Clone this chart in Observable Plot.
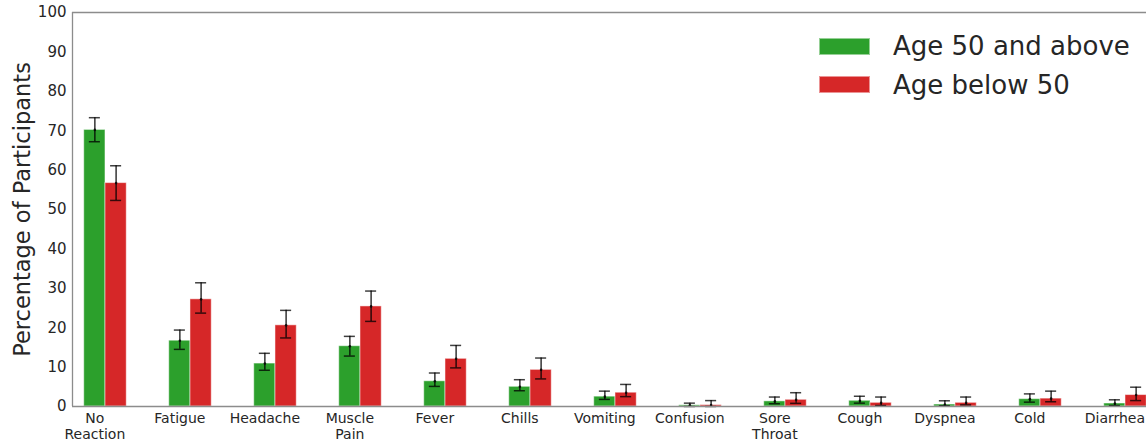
<!DOCTYPE html>
<html>
<head>
<meta charset="utf-8">
<script src="https://cdn.jsdelivr.net/npm/d3@7"></script>
<script src="https://cdn.jsdelivr.net/npm/@observablehq/plot@0.6"></script>
<style>
  html, body { margin: 0; padding: 0; background: #fff; }
  #wrap { position: relative; width: 1146px; height: 447px; font-family: "DejaVu Sans", sans-serif; color: #262626; }
  .legend { position: absolute; left: 819px; top: 27px; font-size: 26px; }
  .legend .row { display: flex; align-items: center; height: 38.5px; }
  .legend .sw { width: 51px; height: 17px; margin-right: 23px; box-sizing: border-box; border: 1px solid rgba(255,255,255,0.5); }
</style>
</head>
<body>
<div id="wrap"></div>
<script>
const categories = ["No\nReaction","Fatigue","Headache","Muscle\nPain","Fever","Chills","Vomiting","Confusion","Sore\nThroat","Cough","Dyspnea","Cold","Diarrhea"];
const groups = ["Age 50 and above","Age below 50"];
const colors = ["#2ca02c","#d62728"];
const older   = [70.2,16.7,10.9,15.3,6.4,5.0,2.5,0.3,1.3,1.45,0.5,1.87,0.76];
const olderLo = [67.2,14.5,9.2,12.8,5.1,4.0,1.8,0.0,0.7,0.85,0.2,1.1,0.25];
const olderHi = [73.3,19.4,13.5,17.8,8.5,6.8,3.9,0.85,2.4,2.6,1.45,3.2,1.7];
const younger   = [56.7,27.2,20.6,25.4,12.1,9.3,3.5,0.35,1.7,0.93,0.93,2.0,2.9];
const youngerLo = [52.3,23.7,17.4,21.6,9.8,7.0,2.5,0.0,0.8,0.25,0.4,1.2,1.5];
const youngerHi = [61.1,31.4,24.4,29.3,15.5,12.3,5.6,1.5,3.5,2.4,2.4,3.9,4.9];
const yTicks = [0,10,20,30,40,50,60,70,80,90,100];
const yLabel = "Percentage of Participants";

const barW = 0.25;
const series = [[older, olderLo, olderHi],[younger, youngerLo, youngerHi]];
const rows = [];
categories.forEach((c, i) => {
  series.forEach(([v, lo, hi], g) => {
    const x1 = i + (g === 0 ? -barW : 0);
    rows.push({i, group: groups[g], value: v[i], lo: lo[i], hi: hi[i], x1, x2: x1 + barW, c: x1 + barW / 2});
  });
});
// tick labels sit under the first bar of each group
const labels = categories.map((c, i) => ({x: i - barW / 2, c}));
const xDomain = [-0.388, 12.247];
const spine = "#8c8c8c";
const cap = 0.065;

const chart = Plot.plot({
  width: 1146,
  height: 447,
  marginLeft: 72,
  marginRight: 0,
  marginTop: 12,
  marginBottom: 41,
  style: {fontFamily: "DejaVu Sans, sans-serif", color: "#262626", background: "white"},
  x: {type: "linear", domain: xDomain, axis: null},
  y: {domain: [0, 100], axis: null},
  color: {domain: groups, range: colors},
  marks: [
    Plot.rect(rows, {x1: "x1", x2: "x2", y1: 0, y2: "value", fill: "group", stroke: "white", strokeOpacity: 0.5, strokeWidth: 1}),
    Plot.ruleX(rows, {x: "c", y1: "lo", y2: "hi", stroke: "black", strokeOpacity: 0.8, strokeWidth: 1.5}),
    Plot.ruleY(rows, {y: "hi", x1: d => d.c - cap, x2: d => d.c + cap, stroke: "black", strokeOpacity: 0.75, strokeWidth: 1.5}),
    Plot.ruleY(rows, {y: "lo", x1: d => d.c - cap, x2: d => d.c + cap, stroke: "black", strokeOpacity: 0.75, strokeWidth: 1.5}),
    Plot.dot(rows, {x: "c", y: "value", r: 1.3, fill: "black", fillOpacity: 0.8}),
    Plot.ruleY([0], {stroke: spine, strokeWidth: 1.3}),
    Plot.ruleY([100], {stroke: spine, strokeWidth: 1.3}),
    Plot.ruleX([xDomain[0]], {stroke: spine, strokeWidth: 1.3}),
    Plot.axisY({ticks: yTicks, tickSize: 0, tickPadding: 6, fontSize: 15, label: null}),
    Plot.text(labels, {x: "x", y: 0, text: "c", lineAnchor: "top", dy: 5, lineHeight: 1.15, fontSize: 14, fill: "#262626"}),
    Plot.text([yLabel], {frameAnchor: "left", textAnchor: "middle", rotate: -90, dx: -50, fontSize: 22.5, fill: "#262626"})
  ]
});

const wrap = document.getElementById("wrap");
wrap.appendChild(chart);
const legend = document.createElement("div");
legend.className = "legend";
groups.forEach((g, k) => {
  const row = document.createElement("div");
  row.className = "row";
  const sw = document.createElement("span");
  sw.className = "sw";
  sw.style.background = colors[k];
  const t = document.createElement("span");
  t.textContent = g;
  row.appendChild(sw); row.appendChild(t);
  legend.appendChild(row);
});
wrap.appendChild(legend);
</script>
</body>
</html>
